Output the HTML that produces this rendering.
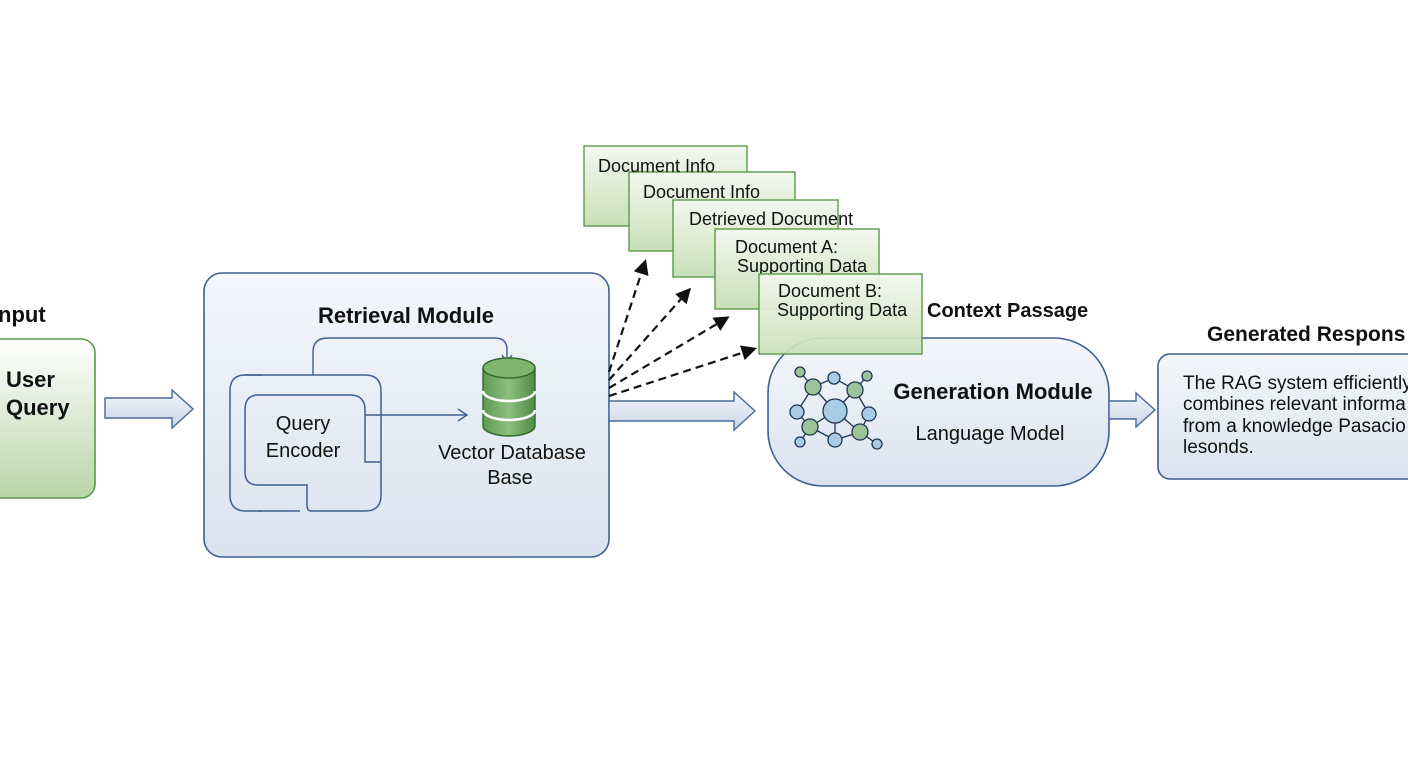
<!DOCTYPE html>
<html><head><meta charset="utf-8"><style>
html,body{margin:0;padding:0;background:#fff;}
svg text{font-family:"Liberation Sans",sans-serif;fill:#111;}
</style></head><body>
<svg width="1408" height="768" viewBox="0 0 1408 768" xmlns="http://www.w3.org/2000/svg">
<defs>
<linearGradient id="gg" x1="0" y1="0" x2="0" y2="1"><stop offset="0" stop-color="#ffffff"/><stop offset="1" stop-color="#b9d5a8"/></linearGradient>
<linearGradient id="bg" x1="0" y1="0" x2="0" y2="1"><stop offset="0" stop-color="#f4f7fb"/><stop offset="1" stop-color="#d9e3ef"/></linearGradient>
<linearGradient id="ag" x1="0" y1="0" x2="0" y2="1"><stop offset="0" stop-color="#f2f5fa"/><stop offset="1" stop-color="#c9d6e6"/></linearGradient>
<linearGradient id="dg" x1="0" y1="0" x2="0" y2="1"><stop offset="0" stop-color="#f3f8ef"/><stop offset="1" stop-color="#c8e0b8"/></linearGradient>
<linearGradient id="cg" x1="0" y1="0" x2="1" y2="0"><stop offset="0" stop-color="#5f9a55"/><stop offset=".5" stop-color="#8cbf7d"/><stop offset="1" stop-color="#4e8a46"/></linearGradient>
<marker id="ah" viewBox="0 0 10 10" refX="8" refY="5" markerWidth="7" markerHeight="7" orient="auto"><path d="M0,0 L10,5 L0,10 z" fill="#111"/></marker>
</defs>

<!-- Input -->
<text x="-2" y="322" font-size="22" font-weight="bold">nput</text>
<rect x="-12" y="339" width="107" height="159" rx="14" fill="url(#gg)" stroke="#5a9a4a" stroke-width="1.6"/>
<text x="6" y="387" font-size="22" font-weight="bold">User</text>
<text x="6" y="415" font-size="22" font-weight="bold">Query</text>

<!-- arrow 1 -->
<path d="M105,398 H172 V390 L193,409 L172,428 V418 H105 Z" fill="url(#ag)" stroke="#4a6a9a" stroke-width="1.4"/>

<!-- Retrieval -->
<rect x="204" y="273" width="405" height="284" rx="18" fill="url(#bg)" stroke="#3f5f90" stroke-width="1.6"/>
<text x="406" y="323" font-size="22" font-weight="bold" text-anchor="middle">Retrieval Module</text>
<path d="M245,375 H365 Q381,375 381,391 V495 Q381,511 365,511 H311 Q307,511 307,505 V485 H258 Q245,485 245,472 V410" fill="none" stroke="#3f5f90" stroke-width="1.5"/>
<path d="M262,375 H245 Q230,375 230,391 V495 Q230,511 246,511 H262 Q262,511 262,511" fill="none" stroke="#3f5f90" stroke-width="1.5"/>
<path d="M258,511 H300" stroke="#3f5f90" stroke-width="1.5"/>
<path d="M258,395 H350 Q365,395 365,410 V462 H381" fill="none" stroke="#3f5f90" stroke-width="1.5"/>
<path d="M258,395 Q245,395 245,410" fill="none" stroke="#3f5f90" stroke-width="1.5"/>
<text x="303" y="430" font-size="20" text-anchor="middle">Query</text>
<text x="303" y="457" font-size="20" text-anchor="middle">Encoder</text>
<path d="M365,415 H466" stroke="#3f5f90" stroke-width="1.4"/>
<path d="M458,409 L467,415 L458,421" fill="none" stroke="#3f5f90" stroke-width="1.4"/>
<path d="M313,375 V352 Q313,338 328,338 H495 Q507,338 507,350 V361" fill="none" stroke="#3f5f90" stroke-width="1.4"/>
<path d="M502,355 L507,362 L512,355" fill="none" stroke="#3f5f90" stroke-width="1.4"/>
<!-- DB -->
<g stroke="#2f6a2c" stroke-width="1.4">
<path d="M483,368 V426 A26,10 0 0 0 535,426 V368" fill="url(#cg)"/>
<ellipse cx="509" cy="368" rx="26" ry="10" fill="#7fb56f"/>
<path d="M483,391 A26,10 0 0 0 535,391" fill="none" stroke="#fff" stroke-width="2.5"/>
<path d="M483,410 A26,10 0 0 0 535,410" fill="none" stroke="#fff" stroke-width="2.5"/>
</g>
<text x="512" y="459" font-size="20" text-anchor="middle">Vector Database</text>
<text x="510" y="484" font-size="20" text-anchor="middle">Base</text>

<!-- dashed arrows -->
<g stroke="#111" stroke-width="2.2" stroke-dasharray="8,5" fill="none" marker-end="url(#ah)">
<path d="M609,372 L645,262"/>
<path d="M609,380 L689,290"/>
<path d="M609,388 L727,318"/>
<path d="M609,396 L754,349"/>
</g>

<!-- doc cards -->
<g stroke="#5a9a4a" stroke-width="1.4" fill="url(#dg)">
<rect x="584" y="146" width="163" height="80"/>
<rect x="629" y="172" width="166" height="79"/>
<rect x="673" y="200" width="165" height="77"/>
<rect x="715" y="229" width="164" height="80"/>
</g>
<text x="598" y="172" font-size="18">Document Info</text>
<text x="643" y="198" font-size="18">Document Info</text>
<text x="689" y="225" font-size="18">Detrieved Document</text>
<text x="735" y="253" font-size="18">Document A:</text>
<text x="737" y="272" font-size="18">Supporting Data</text>

<!-- Generation box -->
<rect x="768" y="338" width="341" height="148" rx="55" fill="url(#bg)" stroke="#3f5f90" stroke-width="1.6"/>
<rect x="759" y="274" width="163" height="80" fill="url(#dg)" fill-opacity="0.92" stroke="#5a9a4a" stroke-width="1.4"/>
<text x="778" y="297" font-size="18">Document B:</text>
<text x="777" y="316" font-size="18">Supporting Data</text>
<text x="927" y="317" font-size="20" font-weight="bold">Context Passage</text>

<!-- big arrow 2 -->
<path d="M609,401 H734 V392 L755,411 L734,430 V421 H609 Z" fill="url(#ag)" stroke="#4a6a9a" stroke-width="1.4"/>

<!-- network -->
<g stroke="#1f3552" stroke-width="1.3">
<path d="M800,372 L813,387 L834,378 L855,390 L867,376 M813,387 L797,412 M813,387 L835,411 L855,390 L869,414 L860,432 M797,412 L810,427 L800,442 M810,427 L835,411 L835,440 L810,427 M835,411 L860,432 L877,444 M835,440 L860,432" fill="none"/>
<circle cx="800" cy="372" r="5" fill="#9cc49a"/>
<circle cx="834" cy="378" r="6" fill="#a8cbe6"/>
<circle cx="867" cy="376" r="5" fill="#9cc49a"/>
<circle cx="813" cy="387" r="8" fill="#9cc49a"/>
<circle cx="855" cy="390" r="8" fill="#9cc49a"/>
<circle cx="797" cy="412" r="7" fill="#a8cbe6"/>
<circle cx="835" cy="411" r="12" fill="#a8cbe6"/>
<circle cx="869" cy="414" r="7" fill="#a8cbe6"/>
<circle cx="810" cy="427" r="8" fill="#9cc49a"/>
<circle cx="860" cy="432" r="8" fill="#9cc49a"/>
<circle cx="800" cy="442" r="5" fill="#a8cbe6"/>
<circle cx="835" cy="440" r="7" fill="#a8cbe6"/>
<circle cx="877" cy="444" r="5" fill="#a8cbe6"/>
</g>
<text x="993" y="399" font-size="22" font-weight="bold" text-anchor="middle">Generation Module</text>
<text x="990" y="440" font-size="20" text-anchor="middle">Language Model</text>

<!-- arrow 3 -->
<path d="M1109,401 H1136 V393 L1155,410 L1136,427 V419 H1109 Z" fill="url(#ag)" stroke="#4a6a9a" stroke-width="1.4"/>

<!-- response -->
<text x="1207" y="341" font-size="21" font-weight="bold">Generated Respons</text>
<rect x="1158" y="354" width="270" height="125" rx="12" fill="url(#bg)" stroke="#3f5f90" stroke-width="1.6"/>
<g font-size="19">
<text x="1183" y="389">The RAG system efficiently</text>
<text x="1183" y="410">combines relevant informa</text>
<text x="1183" y="432">from a knowledge Pasacio</text>
<text x="1183" y="453">lesonds.</text>
</g>
</svg>
</body></html>
